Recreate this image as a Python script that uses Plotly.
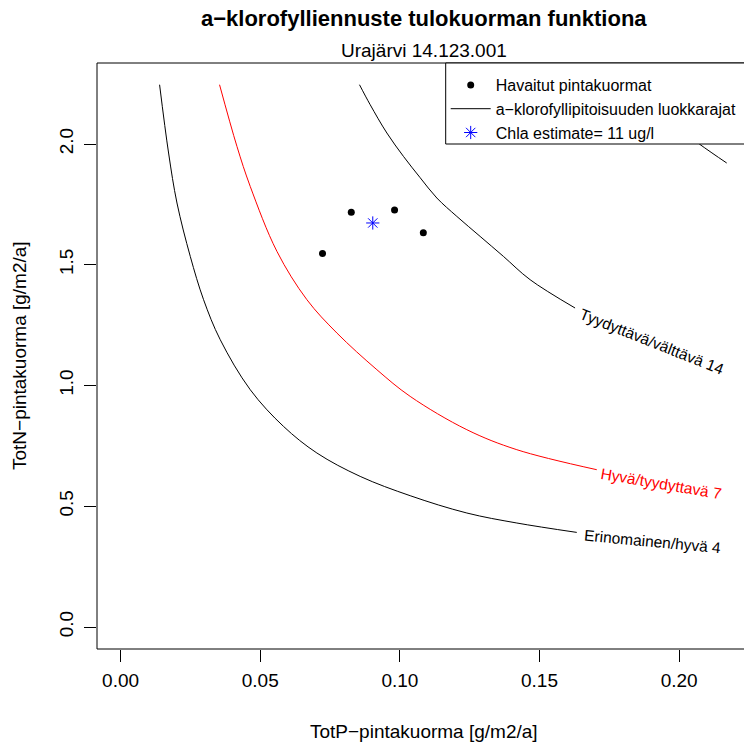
import plotly.graph_objects as go

FONT = "Liberation Sans, Arial, sans-serif"

# Observed loads (TotP, TotN)
obs_p = [0.0723, 0.0826, 0.0981, 0.1084]
obs_n = [1.547, 1.717, 1.727, 1.633]

# Chla estimate point
est_p = [0.0903]
est_n = [1.673]

# Contour lines (class limits of chlorophyll-a)
c4_p = [0.01396, 0.01718, 0.02019, 0.02495, 0.02971, 0.03568, 0.04642,
        0.05834, 0.07029, 0.08579, 0.10369, 0.12398, 0.14188, 0.16335]
c4_n = [2.2455, 1.9627, 1.7557, 1.5346, 1.3553, 1.1896, 0.9826,
        0.8306, 0.7205, 0.6236, 0.5437, 0.4720, 0.4306, 0.3917]

c7_p = [0.03543, 0.04166, 0.04642, 0.05598, 0.06671, 0.07745, 0.09177,
        0.10369, 0.12398, 0.14188, 0.17051]
c7_n = [2.2455, 1.9901, 1.8244, 1.5553, 1.3553, 1.2174, 1.0654,
        0.9549, 0.8170, 0.7342, 0.6513]

c14_p = [0.08554, 0.08937, 0.09535, 0.10129, 0.10727, 0.11324, 0.12040, 0.12874,
         0.13708, 0.14664, 0.16274]
c14_n = [2.2455, 2.1627, 2.0455, 1.9487, 1.8605, 1.7764, 1.7002, 1.6174,
         1.5346, 1.4381, 1.3209]

c20_p = [0.1780, 0.1935, 0.20723, 0.21704]
c20_n = [2.2455, 2.1200, 2.0000, 1.9213]

labels = ["Erinomainen/hyvä 4", "Hyvä/tyydyttavä 7", "Tyydyttävä/välttävä 14"]
label_p = [0.1906, 0.1935, 0.1902]
label_n = [0.3536, 0.5942, 1.1810]
label_ang = [5.3, 9.7, 21.7]
label_col = ["black", "red", "black"]

x_ticks = [0.0, 0.05, 0.10, 0.15, 0.20]
x_ticktext = ["0.00", "0.05", "0.10", "0.15", "0.20"]
y_ticks = [0.0, 0.5, 1.0, 1.5, 2.0]
y_ticktext = ["0.0", "0.5", "1.0", "1.5", "2.0"]

# layout geometry (pixels)
L, R, T, B = 97, 0, 63, 93
PW, PH = 744 - L - R, 742 - T - B


def px_x(p):
    return (p - L) / PW


def px_y(p):
    return (742 - B - p) / PH


fig = go.Figure()

line_name = "a−klorofyllipitoisuuden luokkarajat"
line_style = dict(width=1, shape="spline", smoothing=1.0)
fig.add_trace(go.Scatter(x=c4_p, y=c4_n, mode="lines", line=dict(color="black", **line_style),
                         name=line_name, legendrank=2, showlegend=True))
fig.add_trace(go.Scatter(x=c7_p, y=c7_n, mode="lines", line=dict(color="red", **line_style),
                         showlegend=False))
fig.add_trace(go.Scatter(x=c14_p, y=c14_n, mode="lines", line=dict(color="black", **line_style),
                         showlegend=False))
fig.add_trace(go.Scatter(x=c20_p, y=c20_n, mode="lines", line=dict(color="black", **line_style),
                         showlegend=False))
fig.add_trace(go.Scatter(x=obs_p, y=obs_n, mode="markers",
                         marker=dict(color="black", size=7),
                         name="Havaitut pintakuormat", legendrank=1))
fig.add_trace(go.Scatter(x=est_p, y=est_n, mode="markers",
                         marker=dict(symbol="asterisk-open", size=11, color="blue",
                                     line=dict(color="blue", width=1)),
                         name="Chla estimate= 11 ug/l", legendrank=3))

for t, px, py, a, c in zip(labels, label_p, label_n, label_ang, label_col):
    fig.add_annotation(x=px, y=py, xref="x", yref="y", text=t, showarrow=False,
                       textangle=a, font=dict(family=FONT, size=15.5, color=c))

fig.add_annotation(x=px_x(423.5), y=px_y(19), xref="paper", yref="paper",
                   text="<b>a−klorofylliennuste tulokuorman funktiona</b>",
                   showarrow=False, xanchor="center", yanchor="middle",
                   font=dict(family=FONT, size=22, color="black"))
fig.add_annotation(x=px_x(423.5), y=px_y(50.5), xref="paper", yref="paper",
                   text="Urajärvi 14.123.001", showarrow=False, yanchor="middle",
                   font=dict(family=FONT, size=19, color="black"))
fig.add_annotation(x=px_x(423.5), y=px_y(731), xref="paper", yref="paper",
                   text="TotP−pintakuorma [g/m2/a]", showarrow=False, yanchor="middle",
                   font=dict(family=FONT, size=19, color="black"))
fig.add_annotation(x=px_x(19), y=px_y(356), xref="paper", yref="paper",
                   text="TotN−pintakuorma [g/m2/a]", showarrow=False, textangle=-90,
                   xanchor="center", yanchor="middle",
                   font=dict(family=FONT, size=19, color="black"))

shapes = [
    dict(type="rect", xref="paper", yref="paper", x0=0, x1=1.02, y0=0, y1=1,
         line=dict(color="black", width=1), fillcolor="rgba(0,0,0,0)", layer="above"),
    dict(type="rect", xref="paper", yref="paper", x0=px_x(445.7), x1=1.05,
         y0=px_y(144), y1=1, line=dict(color="black", width=1), fillcolor="white",
         layer="above"),
]

fig.update_layout(
    width=744, height=742, autosize=False,
    margin=dict(l=L, r=R, t=T, b=B, pad=0),
    paper_bgcolor="white", plot_bgcolor="white",
    font=dict(family=FONT, size=19, color="black"),
    shapes=shapes,
    showlegend=True,
    legend=dict(x=px_x(445.7), y=px_y(68), xanchor="left", yanchor="top",
                bgcolor="rgba(0,0,0,0)", borderwidth=0, itemwidth=40,
                font=dict(family=FONT, size=16, color="black"),
                traceorder="normal"),
    xaxis=dict(range=[-0.00845, 0.22323], tickvals=x_ticks, ticktext=x_ticktext,
               ticks="outside", ticklen=12, tickwidth=1, tickcolor="black",
               ticklabelstandoff=2,
               showgrid=False, zeroline=False, showline=False,
               tickfont=dict(family=FONT, size=19, color="black")),
    yaxis=dict(range=[-0.0911, 2.3354], tickvals=y_ticks, ticktext=y_ticktext,
               ticks="outside", ticklen=12, tickwidth=1, tickcolor="black",
               tickangle=-90, ticklabelstandoff=3,
               showgrid=False, zeroline=False, showline=False,
               tickfont=dict(family=FONT, size=19, color="black")),
)

fig.write_html("out.html")
